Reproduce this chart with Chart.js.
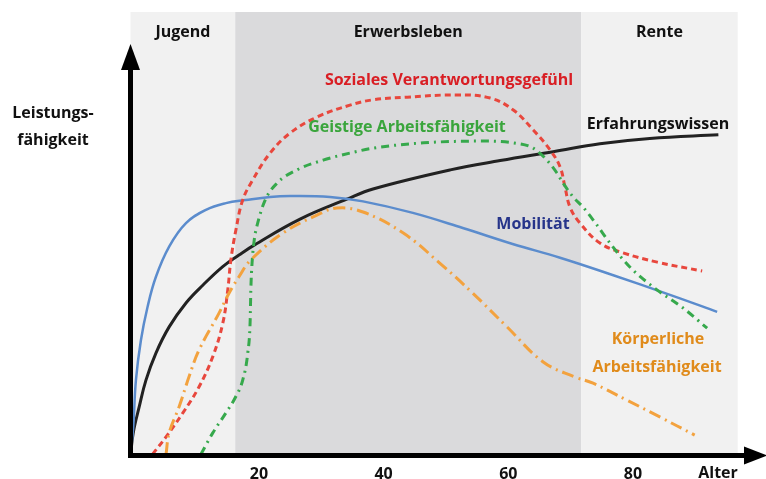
<!DOCTYPE html>
<html>
<head>
<meta charset="utf-8">
<script src="https://cdn.jsdelivr.net/npm/chart.js@4/dist/chart.umd.min.js"></script>
<style>
  html, body { margin: 0; padding: 0; background: #ffffff; }
  #wrap { width: 766px; height: 479px; position: relative; }
</style>
</head>
<body>
<div id="wrap"><canvas id="c"></canvas></div>
<script>
// ---- Data (age in years, performance on a 0–100 schematic scale) ----
const tickAges = [20, 40, 60, 80];
const phaseNames = ["Jugend", "Erwerbsleben", "Rente"];
const phaseBounds = [-0.6, 16.2, 71.7, 96.8];

const mobilityAge = [-0.6, -0.16, 0.27, 1.07, 2.15, 3.48, 5.6, 8.3, 11.5, 14.7, 17.9, 21.8, 25.0, 31.4, 36.7, 44.7, 52.7, 60.7, 68.3, 75.9, 86.4, 93.5];
const mobilityVal = [0, 6.5, 17.0, 26.0, 33.6, 40.3, 47.1, 52.4, 55.4, 56.9, 57.6, 58.3, 58.5, 58.3, 57.3, 54.7, 51.3, 47.7, 44.6, 41.1, 36.0, 32.4];

const experienceAge = [-0.6, -0.16, 0.8, 1.88, 3.48, 5.6, 8.3, 11.0, 14.2, 16.8, 19.3, 26.6, 34.1, 38.3, 50.7, 58.7, 67.2, 74.7, 82.7, 93.7];
const experienceVal = [0, 5.1, 11.0, 17.0, 23.1, 29.0, 34.4, 38.4, 42.6, 45.2, 47.5, 53.3, 57.8, 60.1, 64.4, 66.5, 68.5, 70.3, 71.5, 72.3];

const socialAge = [2.95, 5.1, 7.8, 10.4, 12.6, 14.2, 15.0, 15.5, 16.3, 17.4, 19.0, 21.8, 25.0, 29.3, 34.6, 38.3, 43.8, 51.8, 57.1, 60.8, 64.0, 66.7, 68.3, 69.1, 69.9, 71.5, 74.7, 78.4, 83.9, 91.1];
const socialVal = [0.3, 4.2, 9.6, 15.5, 22.3, 29.8, 37.3, 44.1, 50.8, 57.6, 62.1, 68.2, 72.7, 76.3, 79.0, 80.2, 80.8, 81.3, 80.6, 77.9, 73.4, 68.9, 65.1, 60.5, 56.0, 52.4, 47.9, 45.7, 43.6, 41.6];

const mentalAge = [10.7, 12.6, 14.7, 16.3, 17.4, 18.2, 18.6, 18.7, 18.9, 19.25, 19.8, 21.0, 22.9, 26.1, 30.3, 34.6, 38.3, 46.4, 55.9, 60.8, 64.0, 66.2, 67.8, 68.8, 70.4, 72.0, 74.2, 76.3, 79.5, 83.9, 88.0, 91.9];
const mentalVal = [0.3, 5.1, 9.6, 13.3, 17.0, 23.0, 30.6, 37.3, 43.4, 48.6, 52.4, 57.6, 61.4, 64.4, 66.6, 68.2, 69.3, 70.5, 70.9, 70.5, 69.3, 66.6, 63.7, 61.4, 58.3, 56.0, 52.0, 47.9, 42.5, 37.3, 33.3, 28.7];

const physicalAge = [5.1, 5.6, 7.2, 8.8, 10.4, 13.6, 15.2, 16.8, 18.7, 23.9, 29.3, 32.5, 36.7, 43.1, 49.0, 54.3, 59.8, 65.6, 70.7, 73.6, 79.0, 84.3, 89.9];
const physicalVal = [0.3, 5.1, 11.0, 17.8, 23.8, 32.1, 36.6, 40.3, 44.1, 50.2, 54.2, 55.8, 54.9, 50.2, 43.4, 36.6, 29.0, 21.1, 17.7, 16.3, 12.5, 8.7, 4.6];

const seriesLabels = ["Mobilität", "Erfahrungswissen", "Soziales Verantwortungsgefühl", "Geistige Arbeitsfähigkeit", "Körperliche Arbeitsfähigkeit"];

function pts(a, v) { return a.map((x, i) => ({ x: x, y: v[i] })); }

const FONT = "'Open Sans', 'Noto Sans', sans-serif";

const decor = {
  id: 'decor',
  beforeDatasetsDraw(chart) {
    const { ctx, chartArea, scales } = chart;
    const xs = scales.x;
    const cols = ['#f1f1f1', '#dadadc', '#f1f1f1'];
    ctx.save();
    for (let i = 0; i < 3; i++) {
      const x0 = xs.getPixelForValue(phaseBounds[i]);
      const x1 = xs.getPixelForValue(phaseBounds[i + 1]);
      ctx.fillStyle = cols[i];
      ctx.fillRect(x0, chartArea.top, x1 - x0, chartArea.bottom - chartArea.top);
    }
    ctx.restore();
  },
  afterDraw(chart) {
    const { ctx, chartArea, scales } = chart;
    const xs = scales.x;
    ctx.save();
    const ax = chartArea.left;
    const ay = chartArea.bottom;
    ctx.strokeStyle = '#000';
    ctx.fillStyle = '#000';
    ctx.lineWidth = 5;
    ctx.beginPath();
    ctx.moveTo(ax, ay + 2.5);
    ctx.lineTo(ax, 68);
    ctx.stroke();
    ctx.beginPath();
    ctx.moveTo(ax - 2.5, ay);
    ctx.lineTo(746, ay);
    ctx.stroke();
    ctx.beginPath();
    ctx.moveTo(ax - 9.5, 70);
    ctx.lineTo(ax + 9.5, 70);
    ctx.lineTo(ax, 44);
    ctx.closePath();
    ctx.fill();
    ctx.beginPath();
    ctx.moveTo(744, ay - 9);
    ctx.lineTo(744, ay + 9);
    ctx.lineTo(767, ay);
    ctx.closePath();
    ctx.fill();

    ctx.textAlign = 'center';
    ctx.textBaseline = 'middle';
    ctx.font = 'bold 16px ' + FONT;
    ctx.fillStyle = '#111';
    for (let i = 0; i < 3; i++) {
      const cx = (xs.getPixelForValue(phaseBounds[i]) + xs.getPixelForValue(phaseBounds[i + 1])) / 2;
      ctx.fillText(phaseNames[i], cx, 32);
    }
    ctx.fillText('Leistungs-', 53, 113);
    ctx.fillText('fähigkeit', 53, 140);
    ctx.fillText('Alter', 718, 473);

    ctx.fillStyle = '#d91e24';
    ctx.fillText(seriesLabels[2], 449, 80);
    ctx.fillStyle = '#3aa53c';
    ctx.fillText(seriesLabels[3], 407, 127);
    ctx.fillStyle = '#111';
    ctx.fillText(seriesLabels[1], 658, 124);
    ctx.fillStyle = '#26348a';
    ctx.fillText(seriesLabels[0], 533, 224);
    ctx.fillStyle = '#e08b1b';
    ctx.fillText('Körperliche', 658, 339);
    ctx.fillText('Arbeitsfähigkeit', 657, 367);
    ctx.restore();
  }
};

new Chart(document.getElementById('c'), {
  type: 'line',
  data: {
    datasets: [
      { label: seriesLabels[4], data: pts(physicalAge, physicalVal), borderColor: '#f3a23e', borderWidth: 3, borderDash: [12, 5, 2, 5] },
      { label: seriesLabels[3], data: pts(mentalAge, mentalVal), borderColor: '#36a94c', borderWidth: 3, borderDash: [8, 5, 2, 5], cubicInterpolationMode: 'monotone' },
      { label: seriesLabels[2], data: pts(socialAge, socialVal), borderColor: '#e8473d', borderWidth: 3, borderDash: [6, 4] },
      { label: seriesLabels[0], data: pts(mobilityAge, mobilityVal), borderColor: '#5b8ccd', borderWidth: 2.5 },
      { label: seriesLabels[1], data: pts(experienceAge, experienceVal), borderColor: '#222222', borderWidth: 3 }
    ]
  },
  options: {
    responsive: true,
    maintainAspectRatio: false,
    animation: false,
    events: [],
    layout: { padding: { left: 130.5, right: 28.3, top: 12, bottom: 0 } },
    elements: {
      point: { radius: 0 },
      line: { tension: 0.4, fill: false, borderCapStyle: 'butt' }
    },
    plugins: { legend: { display: false }, tooltip: { enabled: false } },
    scales: {
      x: {
        type: 'linear',
        min: -0.6,
        max: 96.8,
        grid: { display: false, drawTicks: false },
        border: { display: false },
        afterBuildTicks(scale) { scale.ticks = tickAges.map(v => ({ value: v })); },
        afterFit(scale) { scale.height = 23.5; },
        ticks: {
          padding: 9,
          color: '#111',
          font: { family: FONT, size: 16, weight: 'bold' },
          callback: v => String(v)
        }
      },
      y: {
        type: 'linear',
        min: 0,
        max: 100,
        display: false
      }
    }
  },
  plugins: [decor]
});
</script>
</body>
</html>
